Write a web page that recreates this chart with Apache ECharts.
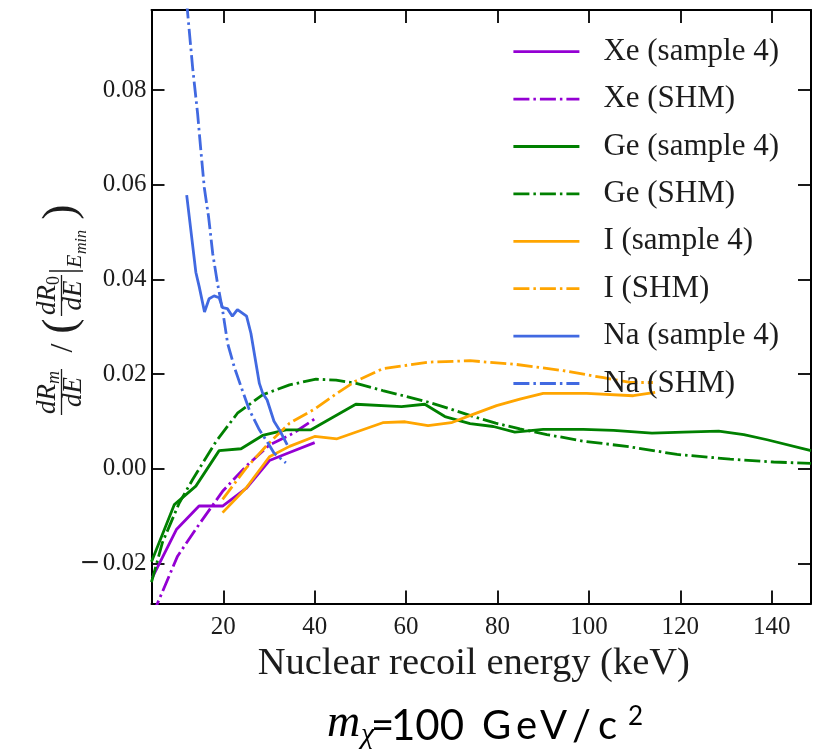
<!DOCTYPE html>
<html>
<head>
<meta charset="utf-8">
<title>Modulated recoil rate, m_chi = 100 GeV/c^2</title>
<script src="https://cdn.jsdelivr.net/npm/echarts@6/dist/echarts.min.js"></script>
<style>
  html, body { margin: 0; padding: 0; background: #ffffff; }
  #chart { width: 822px; height: 752px; }
</style>
</head>
<body>
<div id="chart"></div>
<script>
// Recoil energies (keV) and normalised modulation amplitudes for each target
const xeSample4E = [4.5, 9.8, 14.7, 19.85, 25.0, 30.1, 34.5, 40.0];
const xeSample4R = [-0.023, -0.0128, -0.0079, -0.0079, -0.0042, 0.0017, 0.0034, 0.0055];
const xeShmE = [4.5, 10.0, 14.7, 19.85, 25.0, 30.1, 35.2, 40.0];
const xeShmR = [-0.031, -0.0185, -0.0118, -0.0048, 0.0005, 0.0050, 0.0074, 0.0105];

const geSample4E = [4.3, 9.3, 14.0, 19.1, 23.9, 28.6, 33.7, 39.2, 49.0, 59.0, 64.1, 68.5, 74.0, 79.1, 83.8, 90.0, 98.8, 105.4, 113.8, 120.7, 128.4, 133.9, 139.0, 148.6];
const geSample4R = [-0.0197, -0.0076, -0.0037, 0.0038, 0.0042, 0.0070, 0.0082, 0.0082, 0.0136, 0.0131, 0.0136, 0.0110, 0.0095, 0.0089, 0.0077, 0.0083, 0.0083, 0.0081, 0.0075, 0.0077, 0.0079, 0.0072, 0.0061, 0.0038];
const geShmE = [4.3, 6.7, 10.4, 13.3, 18.4, 23.1, 28.6, 34.5, 40.3, 44.7, 49.1, 54.9, 64.3, 69.4, 74.7, 79.6, 84.9, 90.8, 98.8, 109.0, 119.3, 130.9, 140.4, 148.6];
const geShmR = [-0.024, -0.0156, -0.0072, -0.0023, 0.0057, 0.0117, 0.0156, 0.0177, 0.0189, 0.0187, 0.0180, 0.0165, 0.0142, 0.0127, 0.0110, 0.0096, 0.0084, 0.0072, 0.0058, 0.0046, 0.0030, 0.0020, 0.0014, 0.0011];

const iSample4E = [19.85, 25.0, 30.1, 34.5, 40.0, 44.9, 54.9, 59.8, 64.8, 69.9, 74.5, 79.8, 84.9, 90.0, 99.5, 109.7, 114.5];
const iSample4R = [-0.0093, -0.0041, 0.0025, 0.0047, 0.0068, 0.0063, 0.0097, 0.0099, 0.0091, 0.0097, 0.0114, 0.0133, 0.0147, 0.0159, 0.0159, 0.0154, 0.0161];
const iShmE = [19.85, 25.0, 29.7, 34.5, 40.0, 44.9, 48.8, 54.9, 65.0, 74.0, 84.2, 94.4, 103.2, 109.0, 114.0];
const iShmR = [-0.0065, 0.0001, 0.0051, 0.0096, 0.0126, 0.0159, 0.0184, 0.0211, 0.0225, 0.0228, 0.0220, 0.0207, 0.0192, 0.0182, 0.0182];

const naSample4E = [12.0, 14.0, 14.75, 15.9, 16.9, 18.0, 19.1, 19.85, 20.9, 22.0, 23.1, 25.1, 26.05, 27.9, 28.6, 29.6, 31.1, 32.4, 34.0];
const naSample4R = [0.0578, 0.0415, 0.0384, 0.0331, 0.0359, 0.0365, 0.0361, 0.0340, 0.0338, 0.0322, 0.0336, 0.0322, 0.0286, 0.0180, 0.0160, 0.0145, 0.0100, 0.0080, 0.0050];
const naShmE = [12.0, 13.3, 14.4, 15.1, 15.85, 16.8, 17.7, 18.75, 19.85, 20.95, 22.4, 23.9, 25.7, 27.9, 30.05, 31.1, 33.7];
const naShmR = [0.0985, 0.0847, 0.0749, 0.0672, 0.0594, 0.0531, 0.0454, 0.0391, 0.0335, 0.0265, 0.0215, 0.0173, 0.0124, 0.0082, 0.0050, 0.0033, 0.0012];

// Axis ticks
const xTicks = [20, 40, 60, 80, 100, 120, 140];
const yTicks = [-0.02, 0.00, 0.02, 0.04, 0.06, 0.08];

const seriesNames = ['Xe (sample 4)', 'Xe (SHM)', 'Ge (sample 4)', 'Ge (SHM)',
                     'I (sample 4)', 'I (SHM)', 'Na (sample 4)', 'Na (SHM)'];

const X_MIN = 4.3, X_MAX = 148.6, Y_MIN = -0.0285, Y_MAX = 0.0969;

const SERIF = '"Liberation Serif", "DejaVu Serif", serif';
const SANS = 'Lato, "Open Sans", sans-serif';
const INK = '#1c1c1c';
const LINE_W = 2.8;
const DASH_DOT = [16, 4, 2.5, 4];

function zip(es, rs) { return es.map((e, i) => [e, rs[i]]); }

function curve(name, es, rs, color, dashed) {
  return {
    name: name,
    type: 'line',
    data: zip(es, rs),
    symbol: 'none',
    showSymbol: false,
    clip: true,
    silent: true,
    animation: false,
    itemStyle: { color: color },
    lineStyle: { color: color, width: LINE_W, type: dashed ? DASH_DOT : 'solid', cap: 'butt' }
  };
}

const frameLine = { show: true, onZero: false, lineStyle: { color: '#000', width: 2 } };
const innerTick = { show: true, inside: true, length: 13, lineStyle: { color: '#000', width: 1.8 } };

const chart = echarts.init(document.getElementById('chart'), null, { renderer: 'canvas' });

// Text helpers for the hand-set math labels
function t(text, x, y, font, align, fill) {
  return { type: 'text', x: x, y: y, silent: true,
           style: { text: text, font: font, fill: fill || INK,
                    textAlign: align || 'center', textVerticalAlign: 'middle',
                    align: align || 'center', verticalAlign: 'middle' } };
}
function bar(x1, y1, x2, y2) {
  return { type: 'line', silent: true, shape: { x1: x1, y1: y1, x2: x2, y2: y2 }, style: { stroke: INK, lineWidth: 1.3 } };
}
const fI = s => 'italic ' + s + 'px ' + SERIF;
const fR = s => s + 'px ' + SERIF;

// y-axis title: (dR_m/dE) / ((dR_0/dE)|_{E_min}), laid out along the text and rotated upright
const yTitle = {
  type: 'group', x: 61, y: 415, rotation: Math.PI / 2, silent: true,
  children: [
    t('dR', 1, -13, fI(27), 'left'),
    t('m', 31, -7, fI(18), 'left'),
    bar(0, 0.5, 46, 0.5),
    t('dE', 23, 13, fI(27)),
    t('/', 67, 3, fR(32)),
    t('(', 89, 1, fR(46)),
    t('dR', 100, -13, fI(27), 'left'),
    t('0', 130, -7, fR(18), 'left'),
    bar(99, 0.5, 140, 0.5),
    t('dE', 119.5, 13, fI(27)),
    bar(144, -12, 144, 22),
    t('E', 147, 14, fI(22), 'left'),
    t('min', 161, 21, fI(16), 'left'),
    t(')', 203, 1, fR(46))
  ]
};

// Dark-matter mass annotation below the axis title
const massNote = {
  type: 'group', silent: true,
  children: [
    t('m', 327, 724, 'italic 46px ' + SERIF, 'left', '#000'),
    t('χ', 361, 735, 'italic 30px ' + SERIF, 'left', '#000'),
    t('=', 371, 726, '40px ' + SANS, 'left', '#000'),
    t('100', 391, 726, '42px ' + SANS, 'left', '#000'),
    t('G', 482, 726, '40px ' + SANS, 'left', '#000'),
    t('e', 516, 726, '40px ' + SANS, 'left', '#000'),
    t('V', 540, 726, '40px ' + SANS, 'left', '#000'),
    t('/', 572, 726, '42px ' + SANS, 'left', '#000'),
    t('c', 598, 726, '40px ' + SANS, 'left', '#000'),
    t('2', 628, 717, '26px ' + SANS, 'left', '#000')
  ]
};

const option = {
  backgroundColor: '#ffffff',
  animation: false,
  grid: { left: 151.5, right: 11, top: 10, bottom: 148.5, containLabel: false },
  legend: {
    orient: 'vertical', left: 512, top: 33.7, padding: 0,
    itemWidth: 66, itemHeight: 14, itemGap: 11.4,
    selectedMode: false,
    data: seriesNames,
    itemStyle: { opacity: 0 },
    lineStyle: { width: LINE_W },
    textStyle: { fontFamily: SERIF, fontSize: 31, color: INK, lineHeight: 36, padding: [0, 0, 0, 19] }
  },
  xAxis: [
    {
      type: 'value', position: 'bottom', min: X_MIN, max: X_MAX,
      axisLine: frameLine,
      axisTick: Object.assign({ customValues: xTicks }, innerTick),
      axisLabel: { customValues: xTicks, margin: 11, fontFamily: SERIF, fontSize: 25, color: INK,
                   formatter: v => String(v) },
      splitLine: { show: false },
      name: 'Nuclear recoil energy (keV)', nameLocation: 'middle', nameGap: 22,
      nameTextStyle: { fontFamily: SERIF, fontSize: 38.5, color: INK, padding: [0, 15, 0, 0], verticalAlign: 'top' }
    },
    {
      type: 'value', position: 'top', min: X_MIN, max: X_MAX,
      axisLine: frameLine,
      axisTick: Object.assign({ customValues: xTicks }, innerTick),
      axisLabel: { show: false }, splitLine: { show: false }
    }
  ],
  yAxis: [
    {
      type: 'value', position: 'left', min: Y_MIN, max: Y_MAX,
      axisLine: frameLine,
      axisTick: Object.assign({ customValues: yTicks }, innerTick),
      axisLabel: {
        customValues: yTicks, margin: 5, fontFamily: SERIF, fontSize: 25, color: INK,
        formatter: v => (v < 0 ? '{neg|\u2212}' : '') + Math.abs(v).toFixed(2),
        rich: { neg: { fontFamily: '"DejaVu Sans", sans-serif', fontSize: 25, color: INK, padding: [0, 2, 0, 0] } }
      },
      splitLine: { show: false }
    },
    {
      type: 'value', position: 'right', min: Y_MIN, max: Y_MAX,
      axisLine: frameLine,
      axisTick: Object.assign({ customValues: yTicks }, innerTick),
      axisLabel: { show: false }, splitLine: { show: false }
    }
  ],
  series: [
    curve(seriesNames[0], xeSample4E, xeSample4R, '#9400d3', false),
    curve(seriesNames[1], xeShmE, xeShmR, '#9400d3', true),
    curve(seriesNames[2], geSample4E, geSample4R, '#008000', false),
    curve(seriesNames[3], geShmE, geShmR, '#008000', true),
    curve(seriesNames[4], iSample4E, iSample4R, '#ffa500', false),
    curve(seriesNames[5], iShmE, iShmR, '#ffa500', true),
    curve(seriesNames[6], naSample4E, naSample4R, '#4169e1', false),
    curve(seriesNames[7], naShmE, naShmR, '#4169e1', true)
  ],
  graphic: [yTitle, massNote]
};

chart.setOption(option);
</script>
</body>
</html>
